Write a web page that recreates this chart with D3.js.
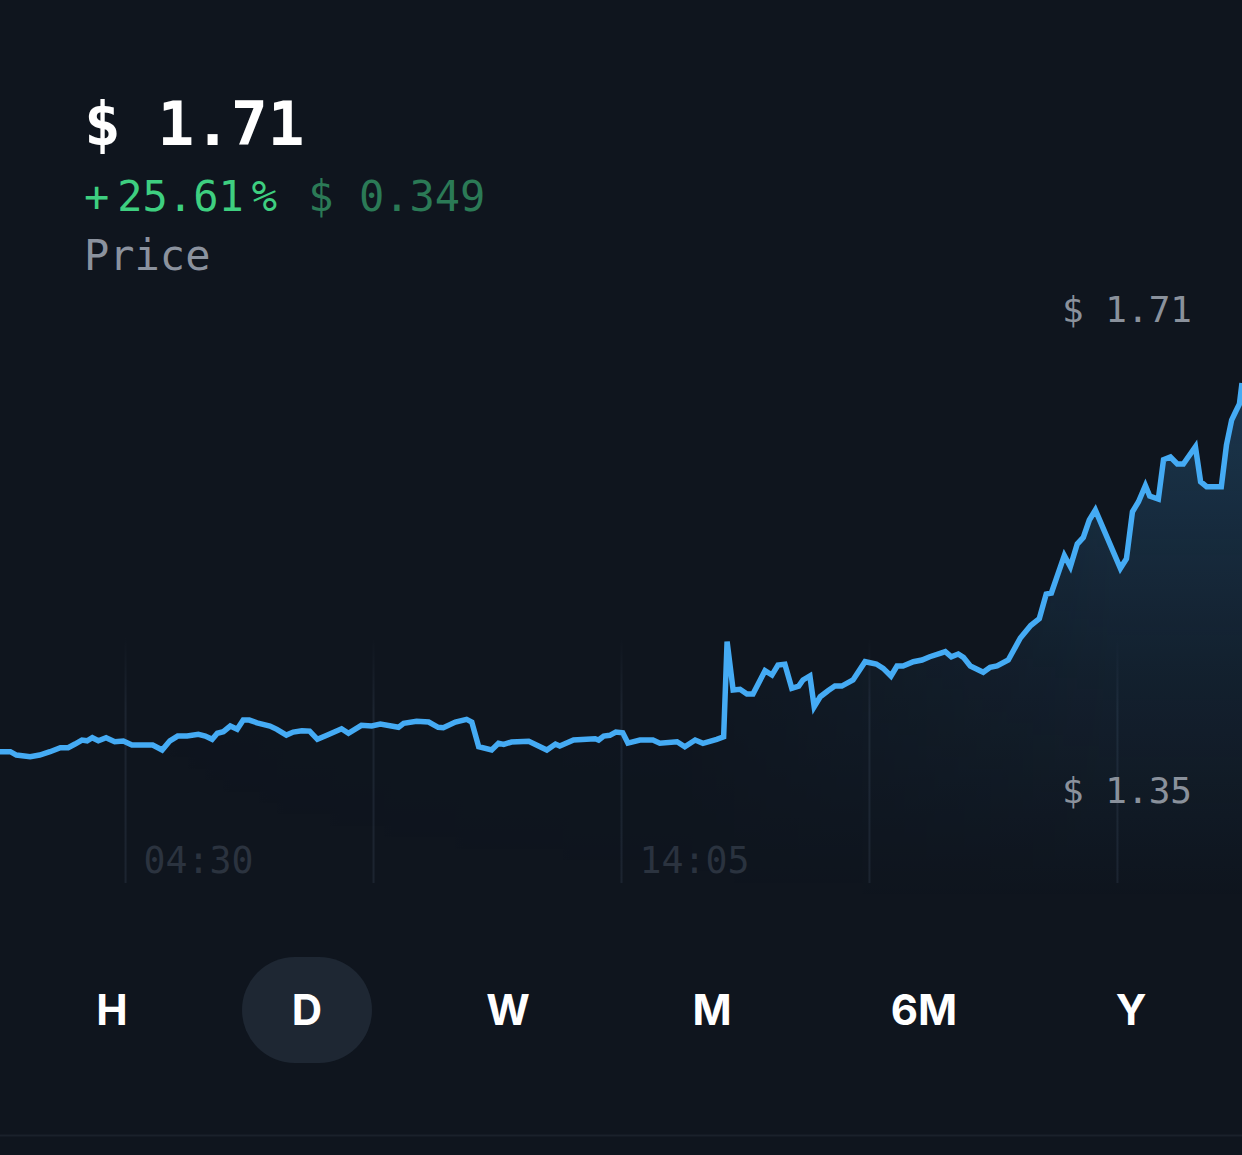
<!DOCTYPE html>
<html>
<head>
<meta charset="utf-8">
<script src="https://cdn.jsdelivr.net/npm/d3@7/dist/d3.min.js"></script>
<style>
  html, body { margin: 0; padding: 0; background: #0f151e; }
  svg { display: block; }
</style>
</head>
<body>
<svg id="chart" width="1242" height="1155"></svg>
<script>
// ---- data ----
const priceText = "$ 1.71";
const changeSign = "+";
const changePct = "25.61";
const changeUnit = "%";
const changeAbs = "$ 0.349";
const seriesName = "Price";

// minutes since 00:00 of the first day (window 02:05 -> 02:05 next day)
const minutes = [125,137,144,160,171,183,195,204,212,220,
  226,232,239,248,258,268,278,287,302,313,
  322,331,342,355,363,371,377,384,392,400,
  407,414,423,438,446,457,465,475,484,493,
  504,521,529,544,556,566,587,593,608,622,
  633,639,653,666,672,680,695,703,709,718,
  738,759,769,774,790,805,815,819,825,832,
  839,847,853,867,882,890,910,919,931,940,
  956,964,968,975,983,991,998,1012,1020,1027,
  1035,1043,1051,1056,1064,1069,1076,1085,1093,1101,
  1114,1128,1141,1149,1158,1165,1172,1184,1194,1203,
  1215,1221,1228,1236,1242,1250,1265,1273,1281,1294,
  1308,1320,1330,1338,1344,1359,1366,1374,1381,1388,
  1395,1424,1431,1438,1445,1453,1458,1468,1474,1482,
  1490,1497,1511,1517,1524,1541,1547,1553,1558,1562,
  1565];
const prices = [1.3594,1.3594,1.3562,1.3546,1.3562,1.3594,1.3632,1.3632,1.3667,1.3705,
  1.3698,1.3727,1.3698,1.3727,1.3689,1.3695,1.3657,1.3657,1.3657,1.3610,
  1.3698,1.3743,1.3743,1.3759,1.3743,1.3712,1.3769,1.3784,1.3838,1.3807,
  1.3895,1.3895,1.3869,1.3838,1.3807,1.3752,1.3781,1.3793,1.3790,1.3712,
  1.3750,1.3812,1.3769,1.3845,1.3838,1.3857,1.3826,1.3864,1.3883,1.3876,
  1.3826,1.3822,1.3876,1.3902,1.3876,1.3641,1.3610,1.3674,1.3664,1.3686,
  1.3693,1.3610,1.3667,1.3648,1.3705,1.3712,1.3717,1.3705,1.3743,1.3750,
  1.3781,1.3774,1.3676,1.3705,1.3705,1.3674,1.3689,1.3641,1.3705,1.3674,
  1.3712,1.3736,1.4640,1.4180,1.4187,1.4142,1.4142,1.4364,1.4323,1.4418,
  1.4425,1.4197,1.4218,1.4276,1.4314,1.4022,1.4117,1.4174,1.4218,1.4218,
  1.4276,1.4450,1.4428,1.4387,1.4314,1.4409,1.4409,1.4450,1.4466,1.4497,
  1.4529,1.4545,1.4497,1.4523,1.4491,1.4409,1.4349,1.4396,1.4409,1.4466,
  1.4675,1.4794,1.4860,1.5093,1.5103,1.5460,1.5353,1.5569,1.5631,1.5797,
  1.5892,1.5338,1.5428,1.5876,1.5971,1.6125,1.6025,1.5997,1.6371,1.6396,
  1.6330,1.6330,1.6494,1.6161,1.6114,1.6114,1.6510,1.6748,1.6834,1.6900,
  1.7100];

const gridMinutes = [270, 557.5, 845, 1132.5, 1420];
const gridLabels = ["04:30", "", "14:05", "", ""];
const yLabelValues = [1.71, 1.35];
const yLabelTexts = ["$ 1.71", "$ 1.35"];
const ranges = ["H", "D", "W", "M", "6M", "Y"];
const activeRange = "D";

// ---- layout ----
const W = 1242, H = 1155;
const chartBottom = 883;
const mono = "'DejaVu Sans Mono', 'Liberation Mono', monospace";
const data = minutes.map((m, i) => ({ m, v: prices[i] }));

const svg = d3.select("#chart");
svg.append("rect").attr("width", W).attr("height", H).attr("fill", "#0f151e");

const x = d3.scaleLinear().domain([125, 1565]).range([0, W]);
const y = d3.scaleLinear().domain([1.35, 1.71]).range([761.6, 383]);

const defs = svg.append("defs");
const ag = defs.append("linearGradient").attr("id", "areaGrad")
  .attr("gradientUnits", "userSpaceOnUse").attr("x1", 0).attr("x2", 0)
  .attr("y1", 383).attr("y2", 900);
ag.append("stop").attr("offset", "0%").attr("stop-color", "#45abf4").attr("stop-opacity", 0.22);
ag.append("stop").attr("offset", "55%").attr("stop-color", "#45abf4").attr("stop-opacity", 0.08);
ag.append("stop").attr("offset", "100%").attr("stop-color", "#45abf4").attr("stop-opacity", 0);

const mg = defs.append("linearGradient").attr("id", "maskGrad")
  .attr("gradientUnits", "userSpaceOnUse").attr("x1", 0).attr("x2", W)
  .attr("y1", 0).attr("y2", 0);
mg.append("stop").attr("offset", "0%").attr("stop-color", "#fff").attr("stop-opacity", 0);
mg.append("stop").attr("offset", "55%").attr("stop-color", "#fff").attr("stop-opacity", 0.15);
mg.append("stop").attr("offset", "90%").attr("stop-color", "#fff").attr("stop-opacity", 1);
mg.append("stop").attr("offset", "100%").attr("stop-color", "#fff").attr("stop-opacity", 1);
defs.append("mask").attr("id", "areaMask")
  .attr("maskUnits", "userSpaceOnUse").attr("x", 0).attr("y", 0).attr("width", W).attr("height", H)
  .append("rect").attr("width", W).attr("height", H).attr("fill", "url(#maskGrad)");

const gg = defs.append("linearGradient").attr("id", "gridGrad")
  .attr("gradientUnits", "userSpaceOnUse").attr("x1", 0).attr("x2", 0)
  .attr("y1", -245).attr("y2", 0);
gg.append("stop").attr("offset", "0%").attr("stop-color", "#1c2430").attr("stop-opacity", 0);
gg.append("stop").attr("offset", "30%").attr("stop-color", "#1c2430").attr("stop-opacity", 1);
gg.append("stop").attr("offset", "100%").attr("stop-color", "#1c2430").attr("stop-opacity", 1);

// ---- grid (x axis) ----
const xAxis = d3.axisBottom(x)
  .tickValues(gridMinutes)
  .tickSize(-245)
  .tickFormat((d, i) => gridLabels[i]);
const gx = svg.append("g").attr("transform", `translate(0,${chartBottom})`).call(xAxis);
gx.select(".domain").remove();
gx.selectAll(".tick line").attr("stroke", "url(#gridGrad)").attr("stroke-width", 2);
gx.selectAll(".tick text")
  .attr("fill", "#2b333f")
  .attr("font-family", mono)
  .attr("font-size", 36.5)
  .attr("text-anchor", "start")
  .attr("x", 18)
  .attr("y", -10)
  .attr("dy", 0);

// ---- area + line ----
const area = d3.area().x(d => x(d.m)).y0(900).y1(d => y(d.v));
svg.append("path").datum(data).attr("d", area)
  .attr("fill", "url(#areaGrad)").attr("mask", "url(#areaMask)");

const line = d3.line().x(d => x(d.m)).y(d => y(d.v));
svg.append("path").datum(data).attr("d", line)
  .attr("fill", "none").attr("stroke", "#45abf4")
  .attr("stroke-width", 5.5).attr("stroke-linejoin", "miter");

// ---- y labels ----
const yOffsets = [-61, 41];
svg.selectAll(".ylab").data(yLabelValues).enter().append("text")
  .attr("class", "ylab")
  .attr("x", 1192)
  .attr("y", (d, i) => y(d) + yOffsets[i])
  .attr("text-anchor", "end")
  .attr("fill", "#8a919c")
  .attr("font-family", mono)
  .attr("font-size", 36)
  .text((d, i) => yLabelTexts[i]);

// ---- header ----
svg.append("text").attr("x", 84).attr("y", 145)
  .attr("fill", "#ffffff").attr("font-family", mono)
  .attr("font-weight", "bold").attr("font-size", 61)
  .text(priceText);

const ch = svg.append("text").attr("x", 84).attr("y", 211)
  .attr("font-family", mono).attr("font-size", 42);
ch.append("tspan").attr("fill", "#3ecf80").text(changeSign);
ch.append("tspan").attr("fill", "#3ecf80").attr("dx", 8).text(changePct);
ch.append("tspan").attr("fill", "#3ecf80").attr("dx", 8).text(changeUnit);
ch.append("tspan").attr("fill", "#2b7a56").attr("dx", 6).text(" " + changeAbs);

svg.append("text").attr("x", 84).attr("y", 270)
  .attr("fill", "#8b929e").attr("font-family", mono).attr("font-size", 42)
  .text(seriesName);

// ---- range selector ----
const rangeX = [112, 307, 508, 712, 924, 1131];
const btn = svg.selectAll(".btn").data(ranges).enter().append("g")
  .attr("class", "btn")
  .attr("transform", (d, i) => `translate(${rangeX[i]},1010)`);
btn.filter(d => d === activeRange).append("rect")
  .attr("x", -65).attr("y", -53).attr("width", 130).attr("height", 106)
  .attr("rx", 53).attr("fill", "#1e2733");
btn.append("text")
  .attr("text-anchor", "middle").attr("dy", "0.36em")
  .attr("fill", "#ffffff").attr("font-family", "Inter, 'Open Sans', sans-serif")
  .attr("font-weight", 700).attr("font-size", 42)
  .text(d => d);

svg.append("line").attr("x1", 0).attr("x2", W).attr("y1", 1135.5).attr("y2", 1135.5)
  .attr("stroke", "#1a212b").attr("stroke-width", 2);
</script>
</body>
</html>
